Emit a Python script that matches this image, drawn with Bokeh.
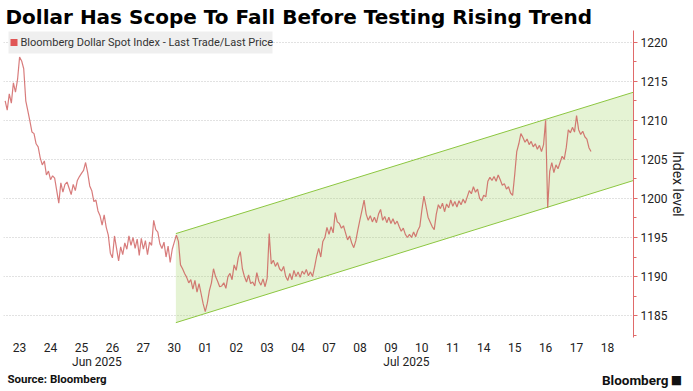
import math
from bokeh.plotting import figure
from bokeh.layouts import column, row
from bokeh.models import Range1d, FixedTicker, BoxAnnotation, Label, LinearAxis
from bokeh.embed import file_html
from bokeh.resources import INLINE

# ---------------- data ----------------
title_text = "Dollar Has Scope To Fall Before Testing Rising Trend"
series_name = "Bloomberg Dollar Spot Index - Last Trade/Last Price"
y_title = "Index level"
source_text = "Source: Bloomberg"
brand_text = "Bloomberg"
tick_labels = ["23", "24", "25", "26", "27", "30", "01", "02", "03", "04",
               "07", "08", "09", "10", "11", "14", "15", "16", "17", "18"]
month_labels = ["Jun 2025", "Jul 2025"]
month_first = [0, 6]
month_last = [5, 19]
y_ticks = [1185, 1190, 1195, 1200, 1205, 1210, 1215, 1220]

# intraday readings, 15 per trading day
week_jun23 = [
    [1212.5, 1211.3, 1213.4, 1212.2, 1214.8, 1213.6, 1215.2, 1218.1, 1217.6, 1216.6, 1212.5, 1211.2, 1209.9, 1208.5, 1208.3],
    [1207.0, 1206.6, 1205.2, 1204.3, 1204.8, 1203.0, 1203.5, 1202.4, 1202.9, 1202.6, 1201.0, 1199.4, 1202.0, 1200.8, 1201.8],
    [1202.1, 1201.3, 1200.5, 1201.8, 1201.0, 1202.3, 1202.8, 1203.2, 1203.6, 1204.6, 1203.3, 1201.6, 1201.0, 1199.6, 1199.8],
    [1198.4, 1197.8, 1196.6, 1197.9, 1196.3, 1195.3, 1193.0, 1192.4, 1195.2, 1193.6, 1192.0, 1193.8, 1192.8, 1194.3, 1193.5],
    [1195.2, 1194.0, 1195.0, 1193.6, 1194.8, 1192.7, 1194.9, 1193.5, 1194.6, 1192.8, 1194.4, 1194.0, 1197.2, 1196.0, 1195.7],
]
week_jun30 = [
    [1194.2, 1193.6, 1194.4, 1192.5, 1193.9, 1191.8, 1193.5, 1194.4, 1195.3, 1194.5, 1191.5, 1191.0, 1190.4, 1189.9, 1189.2],
    [1189.6, 1188.4, 1189.5, 1188.0, 1189.1, 1187.8, 1186.5, 1185.5, 1186.6, 1188.2, 1189.2, 1191.0, 1190.0, 1189.4, 1188.7],
    [1188.8, 1189.2, 1188.5, 1190.0, 1190.4, 1189.6, 1191.5, 1190.8, 1192.4, 1193.2, 1191.0, 1190.0, 1189.3, 1190.2, 1189.1],
    [1189.3, 1188.8, 1190.5, 1189.4, 1188.9, 1189.7, 1188.7, 1189.8, 1195.5, 1191.6, 1192.1, 1191.3, 1191.8, 1191.0, 1190.7],
    [1191.3, 1190.0, 1189.5, 1190.4, 1189.6, 1190.8, 1190.0, 1190.6, 1189.9, 1190.7, 1190.3, 1190.9, 1190.1, 1190.6, 1190.0],
]
week_jul07 = [
    [1191.2, 1192.6, 1193.6, 1192.5, 1194.5, 1195.0, 1196.3, 1195.4, 1196.4, 1195.6, 1198.2, 1197.0, 1196.8, 1196.2, 1196.5],
    [1195.6, 1194.7, 1195.2, 1194.3, 1193.7, 1194.6, 1196.0, 1197.3, 1198.5, 1199.8, 1198.0, 1197.2, 1197.8, 1197.0, 1197.6],
    [1196.9, 1198.0, 1198.6, 1197.2, 1197.7, 1196.9, 1197.6, 1196.8, 1197.4, 1196.7, 1197.1, 1196.4, 1195.8, 1196.2, 1195.4],
    [1195.0, 1195.4, 1195.0, 1195.7, 1195.1, 1195.9, 1196.4, 1198.5, 1200.3, 1199.0, 1197.6, 1197.0, 1196.4, 1196.0, 1198.0],
    [1199.2, 1198.7, 1199.4, 1198.3, 1199.3, 1198.8, 1199.8, 1199.0, 1199.6, 1198.9, 1199.7, 1199.2, 1199.9, 1199.4, 1200.2],
]
week_jul14 = [
    [1201.0, 1200.6, 1201.5, 1200.8, 1201.2, 1200.0, 1199.7, 1200.4, 1200.2, 1202.2, 1202.7, 1202.3, 1202.8, 1202.2, 1203.0],
    [1202.4, 1201.7, 1201.9, 1201.2, 1201.5, 1200.7, 1200.4, 1203.0, 1206.0, 1207.0, 1208.3, 1207.8, 1207.2, 1207.6, 1206.9],
    [1207.3, 1206.6, 1207.0, 1206.3, 1206.8, 1206.0, 1206.9, 1210.0, 1198.8, 1203.5, 1204.6, 1203.3, 1204.3, 1203.8, 1204.6],
    [1205.4, 1205.0, 1206.5, 1208.8, 1208.4, 1209.1, 1208.5, 1210.6, 1208.8, 1208.2, 1208.6, 1207.9, 1207.6, 1206.5, 1206.0],
]

# rising trend channel (trading-day index, index level)
channel_x = [5.05, 19.84]
channel_upper = [1195.5, 1213.6]
channel_lower = [1184.1, 1202.3]

# ---------------- build ----------------
sessions = week_jun23 + week_jun30 + week_jul07 + week_jul14
xs, ys = [], []
for k, day in enumerate(sessions):
    n = len(day)
    for i, v in enumerate(day):
        xs.append(k - 0.5 + (i + 0.5) / n)
        ys.append(v)

FONT = "Roboto"
TFONT = "DejaVu Sans"
W = 693
FW, FH = 630, 307          # frame size
BL, BR, BT, BB = 3, 60, 30, 33
H_FOOT = 391 - (BT + FH + BB)
W_LEFT = 560

p = figure(frame_width=FW, frame_height=FH, output_backend="svg", toolbar_location=None,
           x_range=Range1d(-0.52, 19.84), y_range=Range1d(1182.2, 1221.5),
           y_axis_location="right",
           min_border_left=BL, min_border_right=BR, min_border_top=BT, min_border_bottom=BB)
p.outline_line_color = None
p.background_fill_color = "white"
p.border_fill_color = "white"

# title
p.title.text = title_text
p.title.text_font = TFONT
p.title.text_font_size = "20px"
p.title.text_font_style = "bold"
p.title.text_color = "#000000"
p.title.align = "left"
p.title.offset = 2
p.title.standoff = 3

# grid
p.xgrid.visible = False
p.ygrid.grid_line_color = "#c4c4c4"
p.ygrid.grid_line_dash = "1 2"
p.ygrid.grid_line_width = 1

# y axis (right)
minor = [t - 2.5 for t in y_ticks]
p.yaxis.ticker = FixedTicker(ticks=y_ticks, minor_ticks=minor)
p.yaxis.axis_line_color = "#e06a6a"
p.yaxis.major_tick_line_color = "#e06a6a"
p.yaxis.minor_tick_line_color = "#e06a6a"
p.yaxis.major_tick_in = 0
p.yaxis.major_tick_out = 4
p.yaxis.minor_tick_in = 0
p.yaxis.minor_tick_out = 3
p.yaxis.major_label_standoff = 3
p.yaxis.major_label_text_font = FONT
p.yaxis.major_label_text_font_size = "12px"
p.yaxis.major_label_text_color = "#222222"
p.yaxis.axis_label = y_title
p.yaxis.axis_label_text_font = FONT
p.yaxis.axis_label_text_font_size = "14px"
p.yaxis.axis_label_text_font_style = "normal"
p.yaxis.axis_label_text_color = "#222222"
p.yaxis.axis_label_standoff = 0

# x axis: days
p.xaxis.ticker = FixedTicker(ticks=list(range(len(tick_labels))))
p.xaxis.major_label_overrides = {i: t for i, t in enumerate(tick_labels)}
p.xaxis.axis_line_color = None
p.xaxis.major_tick_line_color = None
p.xaxis.minor_tick_line_color = None
p.xaxis.major_tick_out = 0
p.xaxis.major_tick_in = 0
p.xaxis.minor_tick_out = 0
p.xaxis.minor_tick_in = 0
p.xaxis.major_label_standoff = 5
p.xaxis.major_label_text_font = FONT
p.xaxis.major_label_text_font_size = "12px"
p.xaxis.major_label_text_color = "#222222"

# x axis: months
month_pos = [(a + b) / 2 for a, b in zip(month_first, month_last)]
month_axis = LinearAxis(ticker=FixedTicker(ticks=month_pos),
                        major_label_overrides={m: t for m, t in zip(month_pos, month_labels)},
                        axis_line_color=None, major_tick_line_color=None,
                        minor_tick_line_color=None, major_tick_out=0, major_tick_in=0,
                        minor_tick_out=0, minor_tick_in=0, major_label_standoff=0,
                        major_label_text_font=FONT, major_label_text_font_size="12px",
                        major_label_text_color="#222222")
p.add_layout(month_axis, "below")

# channel
px = [channel_x[0], channel_x[1], channel_x[1], channel_x[0]]
py = [channel_lower[0], channel_lower[1], channel_upper[1], channel_upper[0]]
p.patch(px, py, fill_color="#9fd35f", fill_alpha=0.27, line_color=None)
p.line(channel_x, channel_upper, line_color="#8cc640", line_width=1)
p.line(channel_x, channel_lower, line_color="#8cc640", line_width=1)

# series
p.line(xs, ys, line_color="#c94a4a", line_alpha=0.72, line_width=1.2)

# legend box
p.add_layout(BoxAnnotation(left=5, right=269, top=FH - 1, bottom=FH - 23,
                           left_units="screen", right_units="screen",
                           top_units="screen", bottom_units="screen",
                           fill_color="#efefef", fill_alpha=1, line_color=None))
p.add_layout(BoxAnnotation(left=7, right=14, top=FH - 8.5, bottom=FH - 15.5,
                           left_units="screen", right_units="screen",
                           top_units="screen", bottom_units="screen",
                           fill_color="#e05555", fill_alpha=1, line_color=None))
p.add_layout(Label(x=17, y=FH - 12, x_units="screen", y_units="screen",
                   text=series_name, text_font=FONT, text_font_size="11px",
                   text_color="#333333", text_baseline="middle"))


def strip(width):
    s = figure(frame_width=width, frame_height=H_FOOT, output_backend="svg",
               toolbar_location=None, x_range=Range1d(0, width), y_range=Range1d(0, H_FOOT),
               x_axis_location=None, y_axis_location=None, min_border=0)
    s.grid.visible = False
    s.outline_line_color = None
    s.background_fill_color = "white"
    s.border_fill_color = "white"
    return s


# footer: source (left) and brand (right)
f_left = strip(W_LEFT)
f_left.add_layout(Label(x=7, y=H_FOOT - 7, x_units="screen", y_units="screen",
                        text=source_text, text_font=FONT, text_font_size="11.5px",
                        text_font_style="bold", text_color="#111111", text_baseline="middle"))
f_right = strip(W - W_LEFT)
f_right.add_layout(Label(x=668 - W_LEFT, y=H_FOOT - 8, x_units="screen", y_units="screen",
                         text=brand_text, text_font=FONT, text_font_size="13.5px",
                         text_font_style="bold", text_color="#111111",
                         text_align="right", text_baseline="middle"))
f_right.add_layout(Label(x=676 - W_LEFT, y=H_FOOT - 8, x_units="screen", y_units="screen",
                         text="\u25a0", text_font="DejaVu Sans", text_font_size="12px",
                         text_color="#111111", text_align="center", text_baseline="middle"))

layout = column(p, row(f_left, f_right, spacing=0), spacing=0)
open("out.html", "w").write(file_html(layout, INLINE))
